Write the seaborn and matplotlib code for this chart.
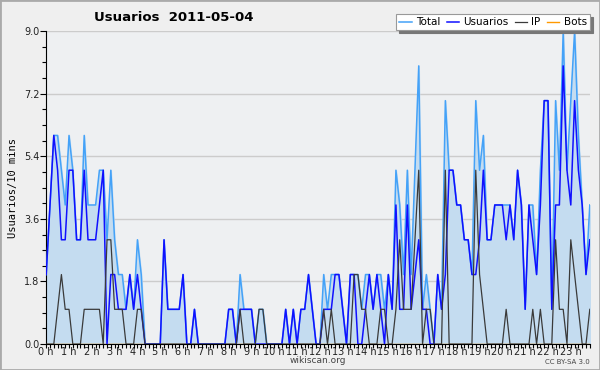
import numpy as np
import pandas as pd
import matplotlib
matplotlib.use("Agg")
import matplotlib.pyplot as plt
import seaborn as sns
from matplotlib.ticker import MultipleLocator, FixedLocator
from matplotlib.patches import Rectangle

# values every 10 minutes, 144 slots
total = [2, 4, 6, 6, 5, 4, 6, 5, 3, 3, 6, 4, 4, 4, 5, 5, 3, 5, 3, 2, 2, 1, 2, 1, 3, 2,
         0, 0, 0, 0, 0, 3, 1, 1, 1, 1, 2, 0, 0, 1, 0, 0, 0, 0, 0, 0, 0, 0, 1, 1, 0, 2,
         1, 1, 1, 0, 1, 1, 0, 0, 0, 0, 0, 1, 0, 1, 0, 1, 1, 2, 1, 0, 0, 2, 1, 2, 2, 2,
         1, 0, 2, 2, 2, 1, 2, 2, 1, 2, 2, 1, 2, 1, 5, 4, 2, 5, 2, 5, 8, 1, 2, 1, 0, 2,
         1, 7, 5, 5, 4, 4, 3, 3, 2, 7, 5, 6, 3, 3, 4, 4, 4, 4, 4, 3, 5, 4, 1, 4, 4, 2,
         5, 7, 7, 1, 7, 5, 9, 5, 7, 9, 6, 4, 2, 4]
usuarios = [2, 4, 6, 5, 3, 3, 5, 5, 3, 3, 5, 3, 3, 3, 4, 5, 0, 2, 2, 1, 1, 1, 2, 1, 2, 1,
            0, 0, 0, 0, 0, 3, 1, 1, 1, 1, 2, 0, 0, 1, 0, 0, 0, 0, 0, 0, 0, 0, 1, 1, 0, 1,
            1, 1, 1, 0, 0, 0, 0, 0, 0, 0, 0, 1, 0, 1, 0, 1, 1, 2, 1, 0, 0, 1, 1, 1, 2, 2,
            1, 0, 2, 2, 0, 0, 1, 2, 1, 2, 1, 0, 2, 1, 4, 1, 1, 4, 1, 2, 3, 1, 1, 0, 0, 2,
            1, 2, 5, 5, 4, 4, 3, 3, 2, 2, 3, 5, 3, 3, 4, 4, 4, 3, 4, 3, 5, 4, 1, 4, 3, 2,
            4, 7, 7, 1, 4, 4, 8, 5, 4, 7, 5, 4, 2, 3]
ip = [0, 0, 0, 1, 2, 1, 1, 0, 0, 0, 1, 1, 1, 1, 1, 0, 3, 3, 1, 1, 1, 0, 0, 0, 1, 1,
      0, 0, 0, 0, 0, 0, 0, 0, 0, 0, 0, 0, 0, 0, 0, 0, 0, 0, 0, 0, 0, 0, 0, 0, 0, 1,
      0, 0, 0, 0, 1, 1, 0, 0, 0, 0, 0, 0, 0, 0, 0, 0, 0, 0, 0, 0, 0, 1, 0, 1, 0, 0,
      0, 0, 0, 2, 2, 1, 1, 0, 0, 0, 1, 1, 0, 0, 1, 3, 1, 1, 1, 3, 5, 0, 1, 1, 0, 0,
      0, 5, 0, 0, 0, 0, 0, 0, 0, 5, 2, 1, 0, 0, 0, 0, 0, 1, 0, 0, 0, 0, 0, 0, 1, 0,
      1, 0, 0, 0, 3, 1, 1, 0, 3, 2, 1, 0, 0, 1]
bots = [0] * 144

hours = np.arange(144) / 6
df = pd.DataFrame({"h": hours, "Total": total, "Usuarios": usuarios,
                   "IP": ip, "Bots": bots})

bg = "#efefef"
fig = plt.figure(figsize=(6, 3.7), dpi=100, facecolor=bg)
ax = fig.add_axes([0.077, 0.070, 0.906, 0.846])
ax.set_facecolor("#eef0f2")

ax.fill_between(df["h"], df["Total"], color="#c4dcf0", zorder=1)
sns.lineplot(data=df, x="h", y="Total", color="#44a2f8", lw=1.1, ax=ax, label="Total", zorder=3)
sns.lineplot(data=df, x="h", y="Usuarios", color="#1010ff", lw=1.1, ax=ax, label="Usuarios", zorder=4)
sns.lineplot(data=df, x="h", y="IP", color="#3a3a3a", lw=0.9, ax=ax, label="IP", zorder=5)
sns.lineplot(data=df, x="h", y="Bots", color="#ff9900", lw=1.0, ax=ax, label="Bots", zorder=2)

ax.set_xlim(0, 143 / 6)
ax.set_ylim(0, 9.0)
ax.yaxis.set_major_locator(FixedLocator([0, 1.8, 3.6, 5.4, 7.2, 9.0]))
ax.yaxis.set_minor_locator(MultipleLocator(0.45))
ax.set_yticklabels(["0.0", "1.8", "3.6", "5.4", "7.2", "9.0"])
ax.xaxis.set_major_locator(FixedLocator(list(range(24))))
ax.xaxis.set_minor_locator(MultipleLocator(1 / 6))
ax.set_xticklabels([f"{h} h" for h in range(24)])
ax.tick_params(axis="y", which="major", labelsize=7, length=4, width=0.8,
               color="black", labelcolor="#222222", pad=1)
ax.tick_params(axis="x", which="major", labelsize=7, length=3, width=0.8,
               color="black", labelcolor="#222222", pad=-1)
ax.tick_params(axis="both", which="minor", length=3, width=0.8, color="black")
ax.grid(axis="y", color="#cccccc", lw=1.0, zorder=0)
ax.set_axisbelow(True)
for s in ["top", "right"]:
    ax.spines[s].set_visible(False)
ax.spines["left"].set_color("black")
ax.spines["bottom"].set_color("black")

ax.set_xlabel("")
ax.set_ylabel("Usuarios/10 mins", fontsize=7.5, family="DejaVu Sans Mono", labelpad=4)
fig.text(0.53, 0.025, "wikiscan.org", fontsize=6.5, color="#444444",
         ha="center", va="center")
fig.text(0.29, 0.953, "Usuarios  2011-05-04", fontsize=9.5, fontweight="bold",
         ha="center", va="center")
fig.text(0.983, 0.022, "CC BY-SA 3.0", fontsize=5, color="#444444", ha="right", va="center")

leg = ax.legend(loc="upper right", bbox_to_anchor=(0.983, 0.962),
                bbox_transform=fig.transFigure, ncol=4, fontsize=7.5, frameon=True,
                fancybox=False, shadow={"color": "#777777", "alpha": 1},
                edgecolor="#999999", handlelength=1.2, handletextpad=0.4,
                columnspacing=0.6, borderpad=0.3, borderaxespad=0)
leg.get_frame().set_facecolor("white")
leg.get_frame().set_linewidth(0.8)
leg.set_zorder(10)

fig.patches.append(Rectangle((0, 0), 1, 1, transform=fig.transFigure, fill=False,
                             edgecolor="#aaaaaa", lw=2))
fig.savefig("out.png", dpi=100, facecolor=bg)
